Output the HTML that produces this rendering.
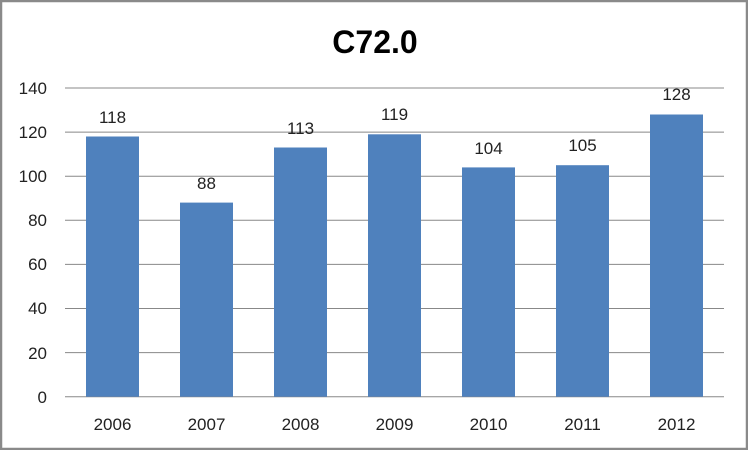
<!DOCTYPE html>
<html><head><style>
body{margin:0;background:#fff}
svg{display:block}
text{font-family:"Liberation Sans",sans-serif}
</style></head><body>
<svg width="748" height="450" xmlns="http://www.w3.org/2000/svg">
<rect x="1" y="1" width="746" height="448" fill="#fff" stroke="#8a8a8a" stroke-width="2.5"/>
<text x="375" y="53" text-anchor="middle" font-size="32" font-weight="bold" fill="#000">C72.0</text>
<g stroke="#888" stroke-width="1">
<line x1="65" x2="724" y1="88" y2="88"/>
<line x1="65" x2="724" y1="132.1" y2="132.1"/>
<line x1="65" x2="724" y1="176.2" y2="176.2"/>
<line x1="65" x2="724" y1="220.3" y2="220.3"/>
<line x1="65" x2="724" y1="264.4" y2="264.4"/>
<line x1="65" x2="724" y1="308.5" y2="308.5"/>
<line x1="65" x2="724" y1="352.6" y2="352.6"/>
<line x1="65" x2="724" y1="396.7" y2="396.7"/>
</g>
<g font-size="17" fill="#222" text-anchor="end">
<text x="47" y="94">140</text>
<text x="47" y="138">120</text>
<text x="47" y="182">100</text>
<text x="47" y="226">80</text>
<text x="47" y="270">60</text>
<text x="47" y="314">40</text>
<text x="47" y="359">20</text>
<text x="47" y="403">0</text>
</g>
<g fill="#4f81bd">
<rect x="86" y="136.5" width="53" height="260.2"/>
<rect x="180" y="202.6" width="53" height="194.1"/>
<rect x="274" y="147.5" width="53" height="249.2"/>
<rect x="368" y="134.3" width="53" height="262.4"/>
<rect x="462" y="167.4" width="53" height="229.3"/>
<rect x="556" y="165.2" width="53" height="231.5"/>
<rect x="650" y="114.5" width="53" height="282.2"/>
</g>
<g font-size="17" fill="#222" text-anchor="middle">
<text x="112.5" y="123">118</text>
<text x="206.5" y="189">88</text>
<text x="300.5" y="134">113</text>
<text x="394.5" y="120">119</text>
<text x="488.5" y="154">104</text>
<text x="582.5" y="151">105</text>
<text x="676.5" y="100">128</text>
<text x="112.5" y="430">2006</text>
<text x="206.5" y="430">2007</text>
<text x="300.5" y="430">2008</text>
<text x="394.5" y="430">2009</text>
<text x="488.5" y="430">2010</text>
<text x="582.5" y="430">2011</text>
<text x="676.5" y="430">2012</text>
</g>
</svg>
</body></html>
